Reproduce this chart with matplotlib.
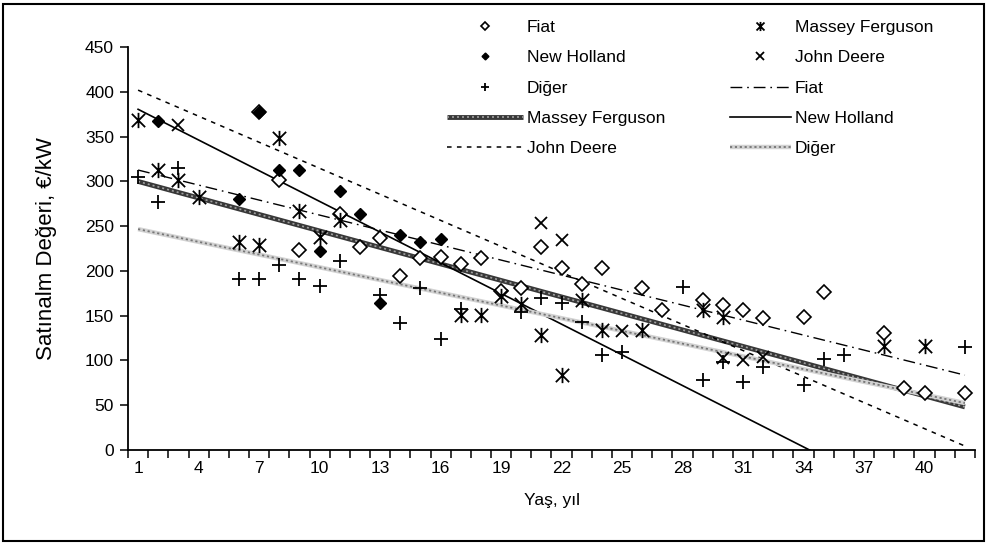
import numpy as np
import matplotlib
matplotlib.use('Agg')
import matplotlib.pyplot as plt
from matplotlib.path import Path
from matplotlib.patches import Rectangle
from matplotlib.legend_handler import HandlerTuple

plt.rcParams['font.family'] = ['Liberation Sans', 'DejaVu Sans']

# ---------------- data ----------------
fiat_age = [7, 8, 9, 11, 12, 13, 14, 15, 16, 17, 18, 19, 20, 21, 22, 23, 24, 26, 27,
            29, 30, 31, 32, 34, 35, 38, 39, 40, 42]
fiat_val = [377, 301, 223, 264, 227, 237, 194, 214, 215, 208, 214, 178, 181, 227, 203,
            185, 203, 181, 156, 168, 162, 156, 147, 149, 176, 131, 69, 64, 64]

mf_age = [1, 2, 3, 4, 6, 7, 8, 9, 10, 11, 17, 18, 19, 20, 21, 22, 23, 24, 26, 29, 30, 38, 40]
mf_val = [368, 313, 301, 282, 232, 229, 348, 267, 238, 257, 151, 151, 172, 163, 128, 84,
          167, 134, 134, 156, 149, 116, 116]

nh_age = [2, 6, 7, 8, 9, 10, 11, 12, 13, 14, 15, 16]
nh_val = [367, 280, 377, 313, 313, 222, 289, 264, 164, 240, 232, 236]

jd_age = [3, 21, 22, 25, 30, 31, 32]
jd_val = [363, 254, 234, 133, 103, 100, 104]

dg_age = [1, 2, 3, 6, 7, 8, 9, 10, 11, 13, 14, 15, 16, 17, 20, 21, 22, 23, 24, 25, 28,
          29, 30, 31, 32, 34, 35, 36, 42]
dg_val = [305, 277, 315, 191, 191, 207, 191, 183, 211, 173, 142, 181, 124, 158, 154, 170,
          164, 143, 106, 109, 182, 78, 98, 76, 93, 73, 102, 106, 115]

categories = list(range(1, 43))
tick_labels = [str(c) for c in range(1, 43, 3)]
y_ticks = list(range(0, 451, 50))

# ---------------- figure ----------------
W, H = 987, 545
fig = plt.figure(figsize=(W / 100, H / 100), dpi=100)
ax = fig.add_axes([128 / W, 1 - 450 / H, (975 - 128) / W, (450 - 47) / H])

FS = 12.5

# asterisk marker (X plus vertical bar)
ast = Path([(-1, -1), (1, 1), (-1, 1), (1, -1), (0, -1.15), (0, 1.15)],
           [Path.MOVETO, Path.LINETO, Path.MOVETO, Path.LINETO, Path.MOVETO, Path.LINETO])

# trendlines over the full category range
xs = np.array([categories[0], categories[-1]], dtype=float)

def trend(age, val):
    c = np.polyfit(age, val, 1)
    return np.polyval(c, xs)

# Fiat trend: long dash dot
l_fiat, = ax.plot(xs, trend(fiat_age, fiat_val), color='black', lw=1.0,
                  dashes=(8.5, 3.5, 1.2, 3.5), zorder=3)
# Massey Ferguson trend: thick hatched dark line
mf_y = trend(mf_age, mf_val)
l_mf1, = ax.plot(xs, mf_y, color='#383838', lw=3.5, solid_capstyle='butt', zorder=3)
l_mf2, = ax.plot(xs, mf_y, color='#a0a0a0', lw=1.2, dashes=(1.2, 1.8), zorder=3)
# New Holland trend: solid
l_nh, = ax.plot(xs, trend(nh_age, nh_val), color='black', lw=1.2, zorder=3)
# John Deere trend: short dashes
l_jd, = ax.plot(xs, trend(jd_age, jd_val), color='black', lw=1.1,
                dashes=(3, 3.5), zorder=3)
# Diğer trend: light gray dotted thick
dg_y = trend(dg_age, dg_val)
l_dg1, = ax.plot(xs, dg_y, color='#d2d2d2', lw=3.2, solid_capstyle='butt', zorder=3)
l_dg2, = ax.plot(xs, dg_y, color='#767676', lw=1.3, dashes=(1.2, 1.5), zorder=3)

# points
p_fiat, = ax.plot(fiat_age, fiat_val, ls='none', marker='D', ms=7.5, mfc='white',
                  mec='black', mew=1.2, zorder=4)
p_mf, = ax.plot(mf_age, mf_val, ls='none', marker=ast, ms=11, mfc='none',
                mec='black', mew=1.3, zorder=4)
p_nh, = ax.plot(nh_age, nh_val, ls='none', marker='D', ms=5.8, mfc='black',
                mec='black', mew=1.0, zorder=5)
p_jd, = ax.plot(jd_age, jd_val, ls='none', marker='x', ms=9, mec='black', mew=1.3, zorder=4)
p_dg, = ax.plot(dg_age, dg_val, ls='none', marker='+', ms=10.5, mec='black', mew=1.3, zorder=4)

# axes
ax.set_xlim(0.5, 42.5)
ax.set_ylim(0, 450)
ax.set_yticks(y_ticks)
ax.set_xticks(range(1, 43, 3))
ax.set_xticklabels(tick_labels)
ax.set_xticks(np.arange(0.5, 43, 1), minor=True)
ax.tick_params(axis='x', which='major', length=0, pad=8, labelsize=FS)
ax.tick_params(axis='x', which='minor', length=6, width=1.1, direction='out')
ax.tick_params(axis='y', length=6, width=1.1, direction='out', pad=4, labelsize=FS)
for s in ['top', 'right']:
    ax.spines[s].set_visible(False)
for s in ['left', 'bottom']:
    ax.spines[s].set_linewidth(1.3)

ax.set_xlabel('Yaş, yıl', fontsize=FS, labelpad=12)
ax.set_ylabel('Satınalm Değeri, €/kW', fontsize=16, labelpad=20)

# legend: two columns placed separately (Excel row-wise order)
px = FS * 100 / 72
common = dict(loc='upper left', frameon=False, fontsize=FS, handletextpad=4 / px,
              labelspacing=0.87, borderpad=0, borderaxespad=0, markerscale=0.6,
              handler_map={tuple: HandlerTuple(ndivide=1, pad=0)})
col1 = [p_fiat, p_nh, p_dg, (l_mf1, l_mf2), l_jd]
lab1 = ['Fiat', 'New Holland', 'Diğer', 'Massey Ferguson', 'John Deere']
col2 = [p_mf, p_jd, l_fiat, l_nh, (l_dg1, l_dg2)]
lab2 = ['Massey Ferguson', 'John Deere', 'Fiat', 'New Holland', 'Diğer']
leg1 = fig.legend(col1, lab1, bbox_to_anchor=(447 / W, 1 - 20 / H),
                  handlelength=76 / px, **common)
leg2 = fig.legend(col2, lab2, bbox_to_anchor=(730 / W, 1 - 20 / H),
                  handlelength=61 / px, **common)

# chart border
fig.patches.append(Rectangle((3 / W, 4 / H), (984 - 3) / W, (541 - 4) / H,
                             transform=fig.transFigure, fill=False,
                             lw=1.5, edgecolor='black'))

fig.savefig('out.png', dpi=100)
